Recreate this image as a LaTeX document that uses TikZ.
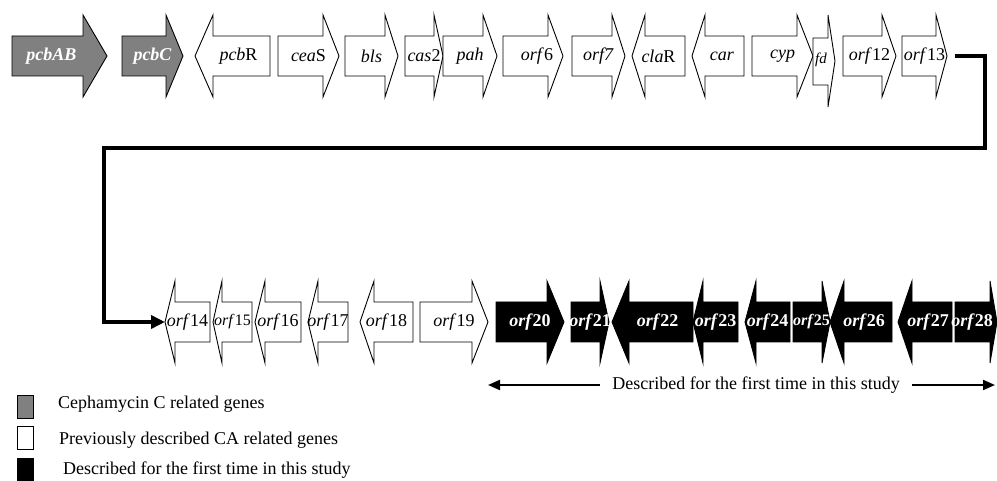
\documentclass[tikz,border=0pt]{standalone}
\usepackage{fontspec}
\setmainfont{Liberation Serif}
\usetikzlibrary{arrows.meta,positioning,calc}
% one gene: [label shift] name, style, tail x, head base x, tip x, centre y, label
\newcommand{\gene}[8][0]{%
 \draw[#3] (#4,#7-20) -- (#5,#7-20) -- (#5,#7-41) -- (#6,#7) -- (#5,#7+41) -- (#5,#7+20) -- (#4,#7+20) -- cycle;
 \node[#3 txt] (#2) at ({(#4+#6)/2+(#1)},#7) {#8};
 \coordinate (#2 tip) at (#6,#7);}

\begin{document}
\begin{tikzpicture}[x=1pt,y=-1pt,
 ceph/.style={draw,line width=0.9pt,fill=black!50},
 prev/.style={draw,line width=0.9pt,fill=white},
 novel/.style={draw,line width=0.9pt,fill=black},
 ceph txt/.style={inner sep=0pt,text=white,font=\fontsize{18}{20}\selectfont\bfseries\itshape},
 prev txt/.style={inner sep=0pt,font=\fontsize{18}{20}\selectfont},
 novel txt/.style={inner sep=0pt,text=white,font=\fontsize{18}{20}\selectfont\bfseries},
 link/.style={line width=3.5pt,-{Triangle[length=14pt,width=13pt]}},
 span/.style={line width=2pt,-{Triangle[length=12pt,width=10pt]}},
 key/.style={draw,line width=0.9pt,minimum width=16pt,minimum height=23pt,inner sep=0pt},
 keytxt/.style={anchor=west,inner sep=0pt,font=\fontsize{18}{20}\selectfont}]
\useasboundingbox (0,0) rectangle (997,481);
% first row
\gene[-8]{pcbAB}{ceph}{12}{83}{107}{56}{pcbAB}
\gene{pcbC}{ceph}{122}{166}{183}{56}{pcbC}
\gene[6]{pcbR}{prev}{270}{213}{195}{56}{\textit{pcb}R}
\gene{ceaS}{prev}{278}{323}{339}{56}{\textit{cea}S}
\gene{bls}{prev}{345}{385}{398}{56}{\textit{bls}}
\gene{cas2}{prev}{405}{434}{443}{56}{\textit{cas}2}
\gene{pah}{prev}{443}{483}{497}{56}{\textit{pah}}
\gene[4]{orf6}{prev}{503}{548}{563}{56}{\textit{orf}6}
\gene{orf7}{prev}{572}{612}{625}{56}{\textit{orf7}}
\gene{claR}{prev}{685}{645}{632}{56}{\textit{cla}R}
\gene[4]{car}{prev}{744}{705}{692}{56}{\textit{car}}
\gene{cyp}{prev}{752}{797}{813}{56}{\textit{cyp}}
\draw[prev] (813,38) -- (828,38) -- (828,15) -- (835,61) -- (828,107) -- (828,85) -- (813,85) -- cycle;
\node[prev txt,font=\fontsize{15}{16}\selectfont\itshape] (fd) at (821,60) {fd};
\gene{orf12}{prev}{843}{882}{896}{56}{\textit{orf}12}
\gene{orf13}{prev}{902}{936}{947}{56}{\textit{orf}13}
% second row
\gene{orf14}{prev}{210}{175}{165}{322}{\textit{orf}14}
\gene{orf15}{prev}{252}{222}{213}{322}{\fontsize{16}{18}\selectfont\textit{orf}15}
\gene{orf16}{prev}{301}{265}{255}{322}{\textit{orf}16}
\gene{orf17}{prev}{348}{318}{308}{322}{\textit{orf}17}
\gene{orf18}{prev}{413}{374}{360}{322}{\textit{orf}18}
\gene{orf19}{prev}{420}{472}{488}{322}{\textit{orf}19}
\gene{orf20}{novel}{496}{547}{564}{322}{\textit{orf}20}
\gene{orf21}{novel}{571}{600}{609}{322}{\textit{orf}21}
\gene[5]{orf22}{novel}{693}{629}{612}{322}{\textit{orf}22}
\gene{orf23}{novel}{738}{703}{693}{322}{\textit{orf}23}
\gene{orf24}{novel}{790}{756}{745}{322}{\textit{orf}24}
\gene{orf25}{novel}{793}{822}{830}{322}{\fontsize{16}{18}\selectfont\textit{orf}25}
\gene[3]{orf26}{novel}{892}{844}{830}{322}{\textit{orf}26}
\gene[3]{orf27}{novel}{952}{912}{898}{322}{\textit{orf}27}
\gene[-4]{orf28}{novel}{955}{990}{997}{322}{\textit{orf}28}
% row link
\coordinate (turnA) at (985,148);
\coordinate (turnB) at (104,148);
\draw[link,line cap=butt,shorten <=8pt] (orf13 tip) -| (turnA) -- (turnB) |- (orf14 tip);
% span of new genes
\node[inner xsep=12pt,inner ysep=0pt,font=\fontsize{18}{20}\selectfont] (study) at (756,385) {Described for the first time in this study};
\coordinate (spanL) at (488,385);
\coordinate (spanR) at (995,385);
\draw[span] (study) -- (spanL);
\draw[span] (study) -- (spanR);
% legend
\node[key,fill=black!50] (k1) at (25,407) {};
\node[key,fill=white] (k2) at (25,438) {};
\node[key,fill=black] (k3) at (25,470) {};
\node[keytxt] (t1) at (58,404) {Cephamycin C related genes};
\node[keytxt] (t2) at (59,440) {Previously described CA related genes};
\node[keytxt] (t3) at (63,470) {Described for the first time in this study};
\end{tikzpicture}
\end{document}
